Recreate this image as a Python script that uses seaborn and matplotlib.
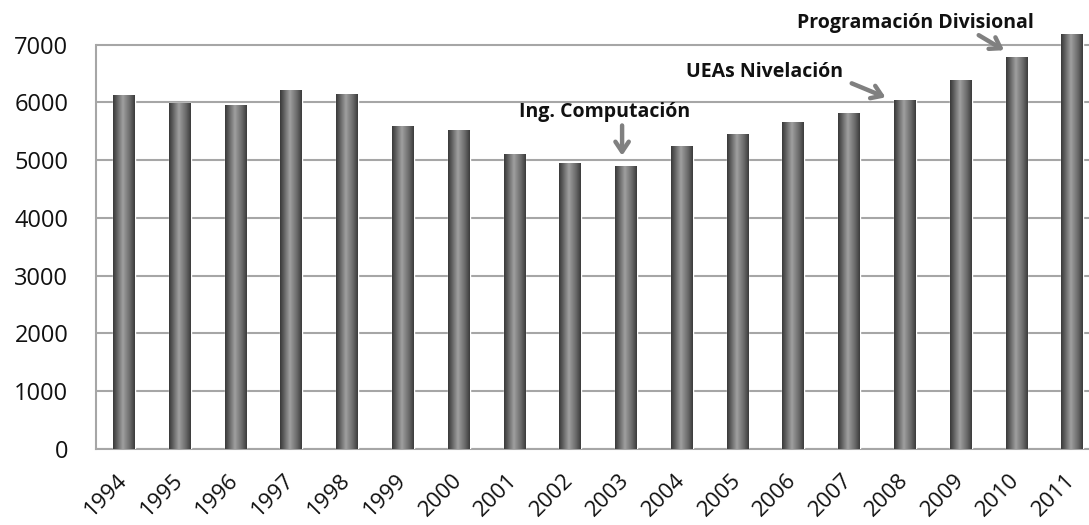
import numpy as np
import pandas as pd
import matplotlib
matplotlib.use("Agg")
import matplotlib.pyplot as plt
import seaborn as sns
from matplotlib.colors import LinearSegmentedColormap

# Enrollment per year
years = ["1994", "1995", "1996", "1997", "1998", "1999", "2000", "2001", "2002",
         "2003", "2004", "2005", "2006", "2007", "2008", "2009", "2010", "2011"]
values = [6130, 5990, 5950, 6210, 6150, 5600, 5520, 5100, 4960,
          4900, 5240, 5450, 5665, 5820, 6040, 6385, 6790, 7190]
y_ticks = [0, 1000, 2000, 3000, 4000, 5000, 6000, 7000]

# Milestones: label, year, text position (x, y), arrow start, arrow tip
notes = [
    ("Ing. Computación", "2003", (8.62, 5830), (8.93, 5650), (8.93, 5030)),
    ("UEAs Nivelación", "2008", (11.49, 6530), (13.0, 6350), (13.7, 6070)),
    ("Programación Divisional", "2010", (14.18, 7380), (15.28, 7190), (15.82, 6880)),
]

df = pd.DataFrame({"year": years, "value": values})

sns.set_theme(style="white")
plt.rcParams["font.family"] = ["Open Sans", "DejaVu Sans"]

fig = plt.figure(figsize=(10.89, 5.25), dpi=100)
ax = fig.add_axes([0.0882, 0.1448, 0.9118, 0.847])

sns.barplot(data=df, x="year", y="value", color="#7a7a7a", width=0.39,
            ax=ax, zorder=3, saturation=1)

# Cylinder-like shading on every bar
shade = LinearSegmentedColormap.from_list(
    "shade", [(0.0, "#3a3a3a"), (0.12, "#535353"), (0.45, "#a0a0a0"),
              (0.8, "#666666"), (1.0, "#3c3c3c")])
grad = np.linspace(0, 1, 64).reshape(1, -1)
for p in ax.patches:
    x0, y0 = p.get_x(), p.get_y()
    w, h = p.get_width(), p.get_height()
    im = ax.imshow(grad, cmap=shade, aspect="auto", extent=(x0, x0 + w, y0, y0 + h),
                   zorder=4, interpolation="bilinear")
    im.set_clip_path(p)

ax.set_xlim(-0.5, 17.3)
ax.set_ylim(0, 7700)
ax.set_yticks(y_ticks)
ax.set_yticklabels([str(v) for v in y_ticks])
ax.grid(axis="y", color="#a6a6a6", linewidth=1.5, zorder=0)
ax.set_axisbelow(True)

for side in ["top", "right"]:
    ax.spines[side].set_visible(False)
ax.spines["left"].set_color("#a6a6a6")
ax.spines["left"].set_linewidth(1.5)
ax.spines["left"].set_bounds(0, 7000)
ax.spines["bottom"].set_color("#a6a6a6")
ax.spines["bottom"].set_linewidth(1.5)

ax.set_xlabel("")
ax.set_ylabel("")
ax.tick_params(axis="y", labelsize=17, pad=20, length=0, colors="#111111")
ax.tick_params(axis="x", labelsize=16, pad=20, length=0, colors="#111111")
for lbl in ax.get_xticklabels():
    lbl.set_rotation(45)
    lbl.set_ha("right")
    lbl.set_va("center")
    lbl.set_rotation_mode("anchor")

for text, year, txy, start, tip in notes:
    ax.text(txy[0], txy[1], text, ha="center", va="center", fontsize=14,
            fontweight="bold", color="#111111", zorder=6)
    ax.annotate("", xy=tip, xytext=start, zorder=6,
                arrowprops=dict(arrowstyle="->,head_length=0.6,head_width=0.4",
                                color="#808080", lw=3.2))

fig.savefig("out.png", dpi=100)
